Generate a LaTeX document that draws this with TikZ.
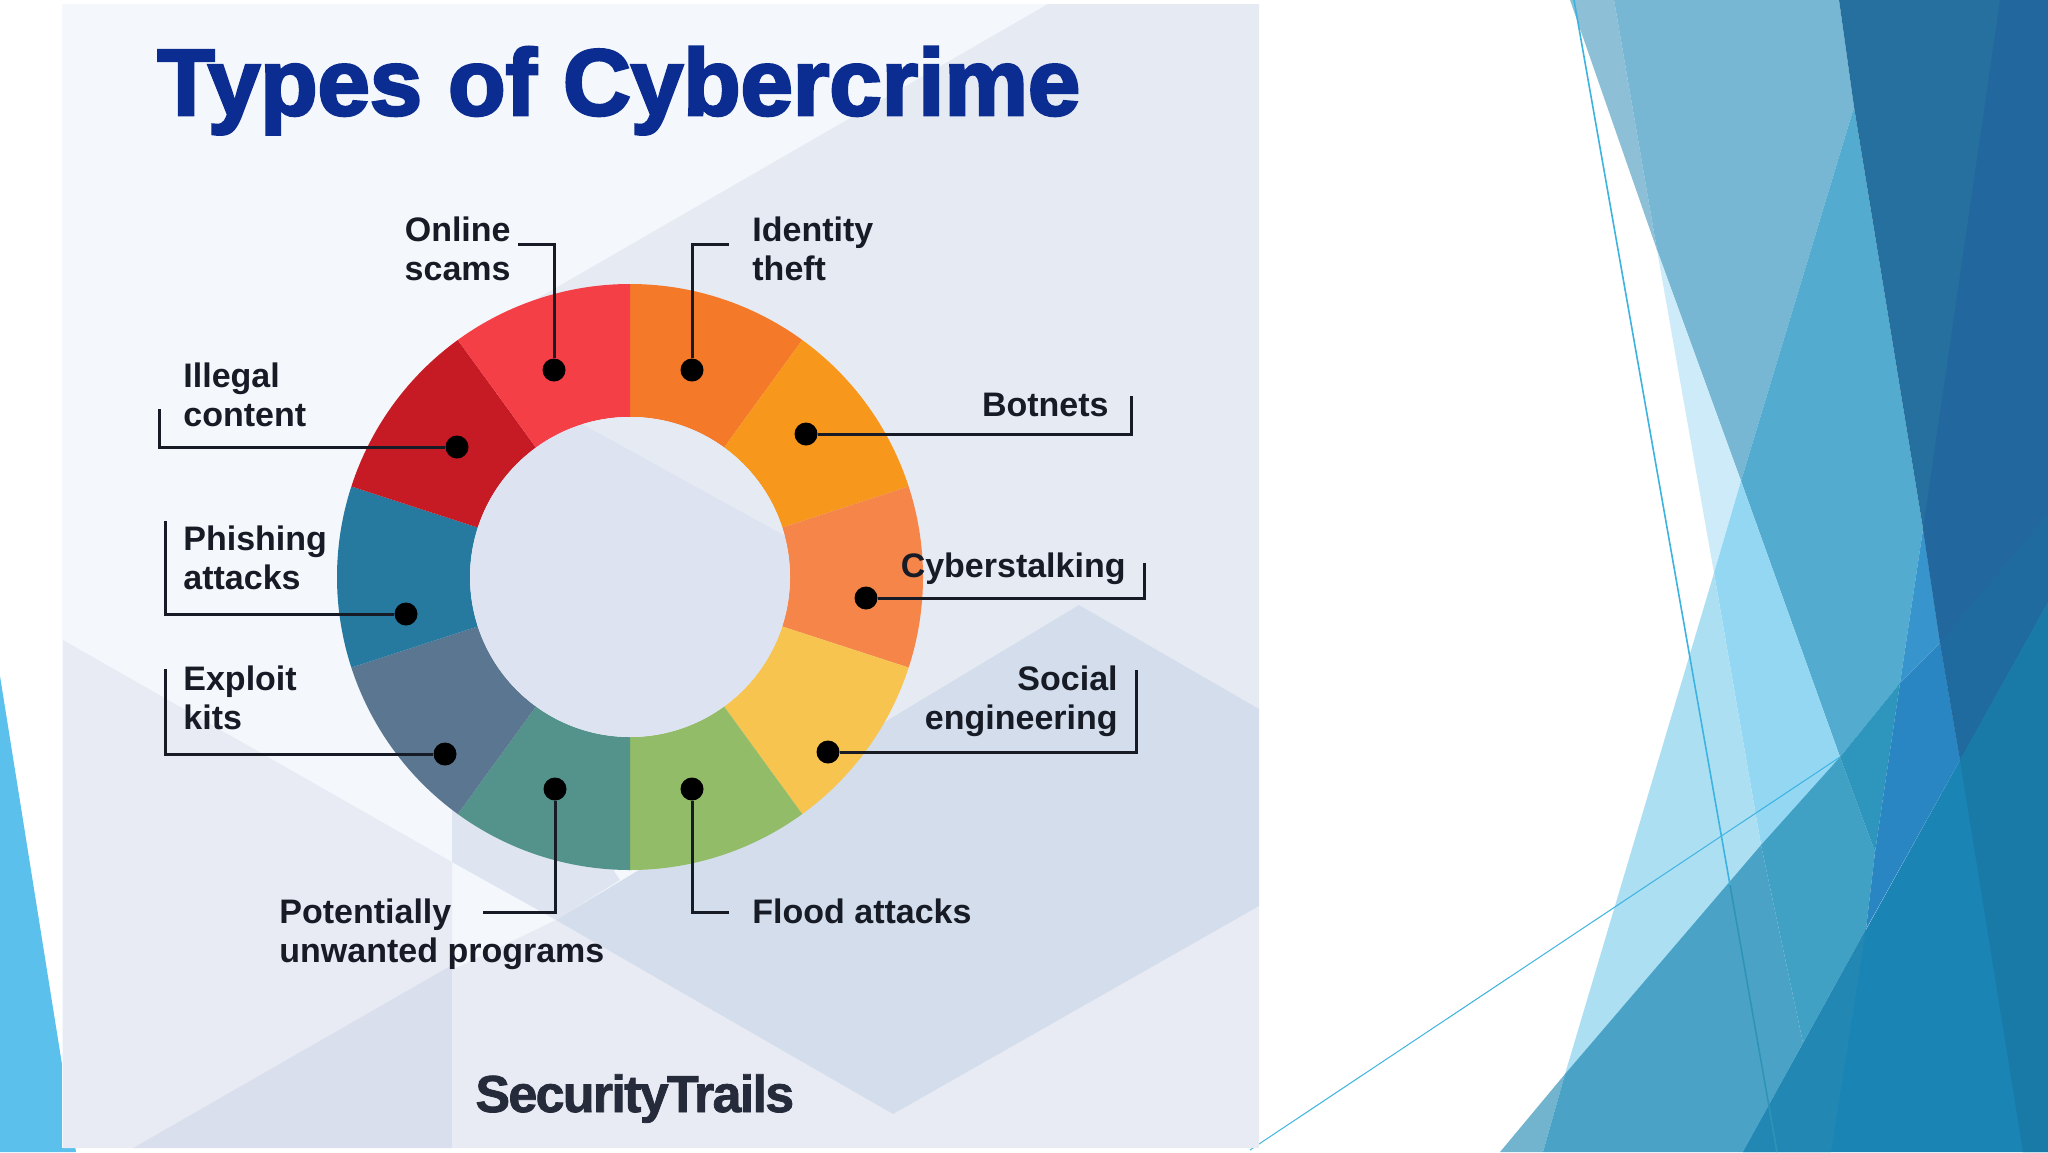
\documentclass[tikz,border=0pt]{standalone}
\usepackage{fontspec}
\usepackage{xcolor}
\setmainfont{Liberation Sans}
\newfontfamily\titlefont[BoldFeatures={FakeBold=3}]{Liberation Sans}
\newfontfamily\brandfont[BoldFeatures={FakeBold=1.5},LetterSpace=-3.3]{Liberation Sans}
\definecolor{panel}{HTML}{F4F7FB}
\definecolor{paleface}{HTML}{E6EAF3}
\definecolor{lowface}{HTML}{E8EBF4}
\definecolor{hexface}{HTML}{D3DDEB}
\definecolor{cornerface}{HTML}{D9DFED}
\definecolor{sideface}{HTML}{DFE5F0}
\definecolor{disc}{HTML}{DDE3F0}
\definecolor{titleblue}{HTML}{0B2D92}
\definecolor{ink}{HTML}{161B26}
\definecolor{brand}{HTML}{252B3A}
\definecolor{rule}{HTML}{3DB3E0}
\definecolor{ruledark}{HTML}{2F93B8}
\definecolor{wedge}{HTML}{5BC0EB}
\definecolor{segone}{HTML}{F47A2A}
\definecolor{segtwo}{HTML}{F7981D}
\definecolor{segthree}{HTML}{F6854A}
\definecolor{segfour}{HTML}{F6C44F}
\definecolor{segfive}{HTML}{92BC68}
\definecolor{segsix}{HTML}{53938C}
\definecolor{segseven}{HTML}{5B7690}
\definecolor{segeight}{HTML}{26799F}
\definecolor{segnine}{HTML}{C61A24}
\definecolor{segten}{HTML}{F53F47}
\definecolor{sliver}{HTML}{8DBFD6}
\definecolor{greyblue}{HTML}{78B7D3}
\definecolor{palesky}{HTML}{CDEBF9}
\definecolor{midblue}{HTML}{53ABCF}
\definecolor{skyblue}{HTML}{93D7F3}
\definecolor{lightsky}{HTML}{ADDFF3}
\definecolor{footgrey}{HTML}{72B3CE}
\definecolor{footblue}{HTML}{4AA3C7}
\definecolor{footmid}{HTML}{41A1C5}
\definecolor{tealface}{HTML}{2E95BC}
\definecolor{royal}{HTML}{2986C3}
\definecolor{royallight}{HTML}{3794CD}
\definecolor{deepblue}{HTML}{26709F}
\definecolor{deeper}{HTML}{22689E}
\definecolor{deepest}{HTML}{1F6A9E}
\definecolor{seablue}{HTML}{1A84B5}
\definecolor{seaside}{HTML}{2288B3}
\definecolor{seadark}{HTML}{197AA8}
\newcommand{\ringseg}[3]{%
  \fill[#3,shift={(630,577)}] (#1:146.5pt) arc[start angle=#1,end angle=#2,radius=146.5pt]
    -- (#2:80pt) arc[start angle=#2,end angle=#1,radius=80pt] -- cycle;}

\begin{document}
\begin{tikzpicture}[
  x=0.5pt,y=-0.5pt,
  leader/.style={draw=ink,line width=1.5pt,line join=miter},
  dot/.style={circle,fill=black,inner sep=0pt,minimum size=11.5pt},
  lab/.style={font=\fontsize{17}{19.5}\selectfont\bfseries,text=ink,inner sep=0pt},
  labl/.style={lab,align=left,anchor=west},
  labr/.style={lab,align=right,anchor=east}
]
\useasboundingbox (0,0) rectangle (2048,1152);
\fill[white] (0,0) rectangle (2048,1152);
% theme facets
\fill[wedge] (0,676) -- (76,1152) -- (0,1152) -- cycle;
\fill[sliver] (1570,0) -- (1614,0) -- (1657,250) -- cycle;
\fill[greyblue] (1614,0) -- (1839,0) -- (1854,107) -- (1741,481) -- (1657,250) -- cycle;
\fill[palesky] (1657,250) -- (1741,481) -- (1714,573) -- cycle;
\fill[midblue] (1854,107) -- (1923,529) -- (1900,683) -- (1840,757) -- (1741,481) -- cycle;
\fill[skyblue] (1741,481) -- (1840,757) -- (1761,845) -- (1714,573) -- cycle;
\fill[lightsky] (1714,573) -- (1761,845) -- (1565,1074) -- cycle;
\fill[footgrey] (1565,1074) -- (1500,1152) -- (1543,1152) -- cycle;
\fill[seablue] (1960,760) -- (2048,602) -- (2048,1152) -- (1743,1152) -- cycle;
\fill[footblue] (1565,1074) -- (1761,845) -- (1803,1043) -- (1743,1152) -- (1543,1152) -- cycle;
\fill[footmid] (1761,845) -- (1840,757) -- (1875,852) -- (1866,929) -- (1803,1043) -- cycle;
\fill[tealface] (1840,757) -- (1900,683) -- (1875,852) -- cycle;
\fill[royal] (1875,852) -- (1900,683) -- (1940,643) -- (1960,760) -- (1866,929) -- cycle;
\fill[royallight] (1923,529) -- (1940,643) -- (1900,683) -- cycle;
\fill[deepblue] (1839,0) -- (2048,0) -- (2048,602) -- (1960,760) -- (1940,643) -- (1923,529) -- (1854,107) -- cycle;
\fill[deeper] (2000,0) -- (2048,0) -- (2048,514) -- (1940,643) -- (1923,529) -- cycle;
\fill[deepest] (2048,514) -- (2048,602) -- (1960,760) -- (1940,643) -- cycle;
\fill[seaside] (1743,1152) -- (1831,1152) -- (1866,929) -- cycle;
\fill[seadark] (1960,760) -- (2048,602) -- (2048,1152) -- (2023,1152) -- cycle;
\coordinate (linetop) at (1574,0);
\coordinate (linemid) at (1730,885);
\coordinate (linelow) at (1777,1152);
\coordinate (diagleft) at (1250,1150);
\coordinate (diagright) at (1840,757);
\draw[rule,line width=0.8pt] (linetop) -- (linemid);
\draw[ruledark,line width=0.8pt] (linemid) -- (linelow);
\draw[rule,line width=0.5pt] (diagleft) -- (diagright);
% picture panel
\fill[panel] (62,4) rectangle (1259,1148);
\fill[paleface] (1048,4) -- (1259,4) -- (1259,709) -- (1079,605) -- (820,761) -- (448,350) -- cycle;
\fill[lowface] (63,640) -- (452,862) -- (452,965) -- (133,1148) -- (63,1148) -- cycle;
\fill[cornerface] (133,1148) -- (452,965) -- (452,1148) -- cycle;
\fill[lowface] (452,970) -- (556,920) -- (893,1114) -- (1259,906) -- (1259,1148) -- (452,1148) -- cycle;
\fill[sideface] (452,790) -- (452,862) -- (556,920) -- (620,880) -- (560,790) -- cycle;
\fill[hexface] (1079,605) -- (1259,709) -- (1259,906) -- (893,1114) -- (556,920) -- cycle;
% ring
\ringseg{90}{54}{segone}
\ringseg{54}{18}{segtwo}
\ringseg{18}{-18}{segthree}
\ringseg{-18}{-54}{segfour}
\ringseg{-54}{-90}{segfive}
\ringseg{-90}{-126}{segsix}
\ringseg{-126}{-162}{segseven}
\ringseg{-162}{-198}{segeight}
\ringseg{162}{126}{segnine}
\ringseg{126}{90}{segten}
\fill[disc] (630,577) circle[radius=80pt];
\begin{scope}
  \clip (630,577) circle[radius=80pt];
  \fill[paleface] (448,350) -- (820,300) -- (820,555) -- cycle;
\end{scope}
% dots, leaders
\node[dot] (onlinedot) at (554,370) {};
\node[dot] (identitydot) at (692,370) {};
\node[dot] (botnetsdot) at (806,434) {};
\node[dot] (stalkdot) at (866,598) {};
\node[dot] (socialdot) at (828,752) {};
\node[dot] (flooddot) at (692,789) {};
\node[dot] (unwanteddot) at (555,789) {};
\node[dot] (exploitdot) at (445,754) {};
\node[dot] (phishdot) at (406,614) {};
\node[dot] (illegaldot) at (457,447) {};
\coordinate (onlineend) at (518,244);
\coordinate (identityend) at (729,244);
\coordinate (botnetsend) at (1131,396);
\coordinate (stalkend) at (1144,563);
\coordinate (socialend) at (1136,670);
\coordinate (floodend) at (729,912);
\coordinate (unwantedend) at (483,912);
\coordinate (exploitend) at (165,669);
\coordinate (phishend) at (165,521);
\coordinate (illegalend) at (159,409);
\draw[leader] (onlinedot) |- (onlineend);
\draw[leader] (identitydot) |- (identityend);
\draw[leader] (botnetsdot) -| (botnetsend);
\draw[leader] (stalkdot) -| (stalkend);
\draw[leader] (socialdot) -| (socialend);
\draw[leader] (flooddot) |- (floodend);
\draw[leader] (unwanteddot) |- (unwantedend);
\draw[leader] (exploitdot) -| (exploitend);
\draw[leader] (phishdot) -| (phishend);
\draw[leader] (illegaldot) -| (illegalend);
% labels
\node[font=\fontsize{47}{50}\selectfont\titlefont\bfseries,text=titleblue,inner sep=0pt,anchor=base west] (title) at (157,115) {Types of Cybercrime};
\node[labr] (online) at (511,249) {Online\\scams};
\node[labl] (identity) at (752,249) {Identity\\theft};
\node[labr] (botnets) at (1109,405) {Botnets};
\node[labr] (stalk) at (1126,569) {Cyberstalking};
\node[labr] (social) at (1118,701) {Social\\engineering};
\node[labl] (flood) at (752,911) {Flood attacks};
\node[labl] (unwanted) at (279,934) {Potentially\\unwanted programs};
\node[labl] (exploit) at (183,698) {Exploit\\kits};
\node[labl] (phish) at (183,558) {Phishing\\attacks};
\node[labl] (illegal) at (183,395) {Illegal\\content};
\node[font=\fontsize{26}{28}\selectfont\brandfont\bfseries,text=brand,inner sep=0pt,anchor=base west] (securitytrails) at (475,1112) {SecurityTrails};
\end{tikzpicture}
\end{document}
